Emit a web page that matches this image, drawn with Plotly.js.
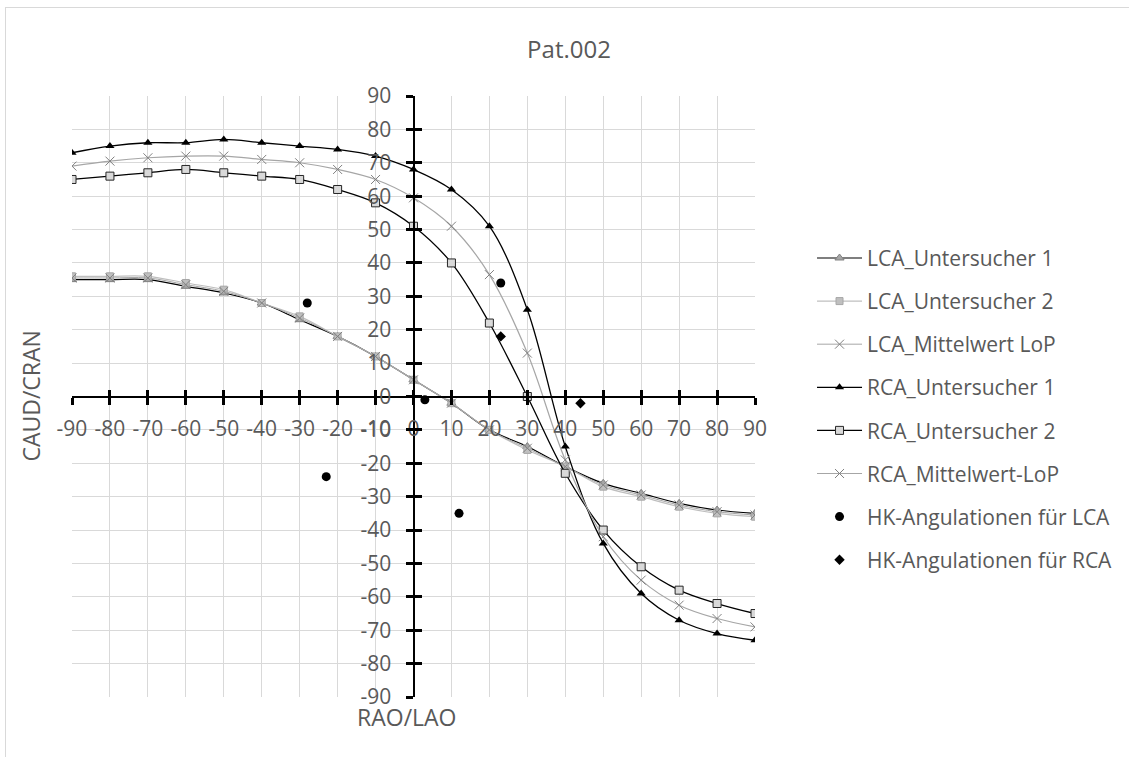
<!DOCTYPE html>
<html>
<head>
<meta charset="utf-8">
<script src="https://cdn.plot.ly/plotly-3.0.1.min.js"></script>
<style>
  html, body { margin: 0; padding: 0; background: #ffffff; }
  #chart { width: 1129px; height: 757px; }
  #frame { position: absolute; left: 5px; top: 7px; width: 1300px; height: 900px;
           border: 1px solid #d9d9d9; pointer-events: none; }
</style>
</head>
<body>
<div id="chart"></div>
<div id="frame"></div>
<script>
// Angles RAO/LAO (x) in degrees
const xValues = [-90, -80, -70, -60, -50, -40, -30, -20, -10, 0, 10, 20, 30, 40, 50, 60, 70, 80, 90];

// LCA series (CAUD/CRAN)
const lcaU1   = [35, 35, 35, 33, 31, 28, 23, 18, 12, 5, -2, -10, -15, -21, -26, -29, -32, -34, -35];
const lcaU2   = [36, 36, 36, 34, 32, 28, 24, 18, 12, 5, -2, -10, -16, -21, -27, -30, -33, -35, -36];
const lcaMean = [35.5, 35.5, 35.5, 33.5, 31.5, 28, 23.5, 18, 12, 5, -2, -10, -15.5, -21, -26.5, -29.5, -32.5, -34.5, -35.5];

// RCA series
const rcaU1   = [73, 75, 76, 76, 77, 76, 75, 74, 72, 68, 62, 51, 26, -15, -44, -59, -67, -71, -73];
const rcaU2   = [65, 66, 67, 68, 67, 66, 65, 62, 58, 51, 40, 22, 0, -23, -40, -51, -58, -62, -65];
const rcaMean = [69, 70.5, 71.5, 72, 72, 71, 70, 68, 65, 59.5, 51, 36.5, 13, -19, -42, -55, -62.5, -66.5, -69];

// Catheter lab angulations
const hkLcaX = [-28, 3, 23, 12, -23];
const hkLcaY = [28, -1, 34, -35, -24];
const hkRcaX = [23, 44];
const hkRcaY = [18, -2];

const seriesNames = ['LCA_Untersucher 1', 'LCA_Untersucher 2', 'LCA_Mittelwert LoP',
                     'RCA_Untersucher 1', 'RCA_Untersucher 2', 'RCA_Mittelwert-LoP',
                     'HK-Angulationen für LCA', 'HK-Angulationen für RCA'];

const tickVals = [-90, -80, -70, -60, -50, -40, -30, -20, -10, 0, 10, 20, 30, 40, 50, 60, 70, 80, 90];

const FONT = '"Open Sans", "Noto Sans", sans-serif';
const TXT = '#595959';

const traces = [
  { x: xValues, y: lcaU1, name: seriesNames[0], legendgroup: 'g0', mode: 'lines+markers',
    line: { color: '#000000', width: 1.2, shape: 'spline' },
    marker: { symbol: 'triangle-up', size: 8, color: '#a6a6a6', line: { color: '#808080', width: 1 } } },
  { x: xValues, y: lcaU2, name: seriesNames[1], legendgroup: 'g1', mode: 'lines+markers',
    line: { color: '#bfbfbf', width: 1.2, shape: 'spline' },
    marker: { symbol: 'square', size: 7, color: '#bfbfbf', line: { color: '#a6a6a6', width: 1 } } },
  { x: xValues, y: lcaMean, name: seriesNames[2], legendgroup: 'g2', mode: 'lines+markers',
    line: { color: '#a6a6a6', width: 1, shape: 'spline' },
    marker: { symbol: 'x-thin-open', size: 9, color: '#808080', line: { color: '#808080', width: 1 } } },
  { x: xValues, y: rcaU1, name: seriesNames[3], legendgroup: 'g3', mode: 'lines+markers',
    line: { color: '#000000', width: 1.3, shape: 'spline' },
    marker: { symbol: 'triangle-up', size: 8, color: '#000000' } },
  { x: xValues, y: rcaU2, name: seriesNames[4], legendgroup: 'g4', mode: 'lines+markers',
    line: { color: '#000000', width: 1.3, shape: 'spline' },
    marker: { symbol: 'square', size: 8, color: '#d9d9d9', line: { color: '#262626', width: 1 } } },
  { x: xValues, y: rcaMean, name: seriesNames[5], legendgroup: 'g5', mode: 'lines+markers',
    line: { color: '#a6a6a6', width: 1.2, shape: 'spline' },
    marker: { symbol: 'x-thin-open', size: 9, color: '#808080', line: { color: '#808080', width: 1 } } },
  { x: hkLcaX, y: hkLcaY, name: seriesNames[6], legendgroup: 'g6', mode: 'markers',
    marker: { symbol: 'circle', size: 9, color: '#000000' } },
  { x: hkRcaX, y: hkRcaY, name: seriesNames[7], legendgroup: 'g7', mode: 'markers',
    marker: { symbol: 'diamond', size: 8, color: '#000000' } },
  // carrier for the inner half of the cross tick marks
  { x: xValues, y: rcaU1, xaxis: 'x2', yaxis: 'y2', mode: 'none', showlegend: false, hoverinfo: 'skip' },
  // carrier for the y tick labels (offset a little left of the axis line)
  { x: xValues, y: rcaU1, xaxis: 'x', yaxis: 'y3', mode: 'none', showlegend: false, hoverinfo: 'skip' }
];

const axisCommon = {
  range: [-90, 90], autorange: false, tickmode: 'array', tickvals: tickVals,
  ticktext: tickVals.map(String), zeroline: false, fixedrange: true
};

const layout = {
  width: 1129, height: 757,
  margin: { l: 72, r: 373, t: 96, b: 60 },
  paper_bgcolor: 'rgba(0,0,0,0)', plot_bgcolor: '#ffffff',
  font: { family: FONT, color: TXT, size: 21 },
  title: { text: 'Pat.002', x: 0.504, xref: 'container', y: 0.934, yref: 'container',
           xanchor: 'center', yanchor: 'middle', font: { family: FONT, size: 24, color: TXT } },
  showlegend: true,
  legend: { x: 1.0819, xanchor: 'left', y: 0.764, yanchor: 'top', tracegroupgap: 12.8,
            itemwidth: 45,
            font: { family: FONT, size: 21, color: TXT }, bgcolor: 'rgba(0,0,0,0)' },
  xaxis: Object.assign({}, axisCommon, {
    anchor: 'free', position: 0.5, showline: true, linecolor: '#000000', linewidth: 2,
    ticks: 'outside', ticklen: 7, tickwidth: 3, tickcolor: '#000000', ticklabelstandoff: 6,
    showgrid: true, gridcolor: '#d9d9d9', gridwidth: 1,
    tickfont: { family: FONT, size: 21, color: TXT }
  }),
  yaxis: Object.assign({}, axisCommon, {
    anchor: 'free', position: 0.5, showline: true, linecolor: '#000000', linewidth: 2,
    ticks: 'outside', ticklen: 7, tickwidth: 3, tickcolor: '#000000', showticklabels: false,
    showgrid: true, gridcolor: '#d9d9d9', gridwidth: 1
  }),
  xaxis2: Object.assign({}, axisCommon, {
    overlaying: 'x', anchor: 'free', position: 0.5, showline: false, showgrid: false,
    ticks: 'inside', ticklen: 7, tickwidth: 3, tickcolor: '#000000', showticklabels: false
  }),
  yaxis2: Object.assign({}, axisCommon, {
    overlaying: 'y', anchor: 'free', position: 0.5, showline: false, showgrid: false,
    ticks: 'inside', ticklen: 7, tickwidth: 3, tickcolor: '#000000', showticklabels: false
  }),
  yaxis3: Object.assign({}, axisCommon, {
    overlaying: 'y', anchor: 'free', position: 0.4839, showline: false, showgrid: false,
    ticks: 'outside', ticklen: 7, tickwidth: 1, tickcolor: 'rgba(0,0,0,0)', showticklabels: true,
    tickfont: { family: FONT, size: 21, color: TXT }
  }),
  annotations: [
    { text: 'CAUD/CRAN', xref: 'paper', yref: 'paper', x: -0.0614, y: 0.5, textangle: -90,
      showarrow: false, xanchor: 'center', yanchor: 'middle', font: { family: FONT, size: 23, color: TXT } },
    { text: 'RAO/LAO', xref: 'paper', yref: 'paper', x: 0.491, y: -0.034,
      showarrow: false, xanchor: 'center', yanchor: 'middle', font: { family: FONT, size: 23, color: TXT } }
  ]
};

Plotly.newPlot('chart', traces, layout, { staticPlot: true, displayModeBar: false });
</script>
</body>
</html>
